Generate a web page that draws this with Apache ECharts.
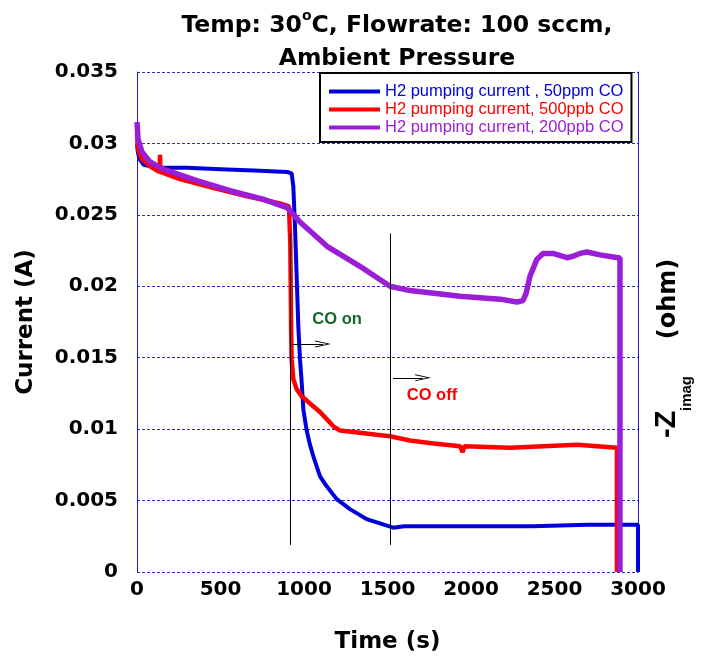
<!DOCTYPE html>
<html>
<head>
<meta charset="utf-8">
<script src="https://cdn.jsdelivr.net/npm/echarts@6/dist/echarts.min.js"></script>
<style>html,body{margin:0;padding:0;background:#fff;}#c{width:701px;height:659px;}</style>
</head>
<body>
<div id="c"></div>
<script>
// ---- data (time in s, current in A) ----
const xTicks = [0, 500, 1000, 1500, 2000, 2500, 3000];
const yTicks = [0, 0.005, 0.01, 0.015, 0.02, 0.025, 0.03, 0.035];

const seriesNames = ['H2 pumping current , 50ppm CO', 'H2 pumping current, 500ppb CO', 'H2 pumping current, 200ppb CO'];

const t50ppm = [0, 5, 15, 40, 80, 140, 300, 500, 700, 900, 926, 936, 946, 956, 966, 976, 986, 996, 1016, 1036, 1056, 1096, 1136, 1196, 1275, 1375, 1455, 1535, 1600, 2000, 2370, 2380, 2700, 3000, 3000];
const i50ppm = [0.0300, 0.0294, 0.0289, 0.0285, 0.0284, 0.0283, 0.0283, 0.0282, 0.0281, 0.0280, 0.0279, 0.0270, 0.0242, 0.0207, 0.0172, 0.0149, 0.0133, 0.0114, 0.0099, 0.0089, 0.0081, 0.0067, 0.0060, 0.0051, 0.0044, 0.0037, 0.0034, 0.0031, 0.0032, 0.0032, 0.0032, 0.0033, 0.0033, 0.0033, 0];

const t500ppb = [0, 6, 30, 78, 136, 138, 140, 257, 455, 659, 856, 910, 916, 918, 921, 923, 926, 936, 956, 986, 1036, 1096, 1136, 1176, 1216, 1296, 1435, 1515, 1635, 1775, 1934, 1950, 1960, 2234, 2635, 2874, 2874];
const i500ppb = [0.0306, 0.0296, 0.0289, 0.0284, 0.0280, 0.0292, 0.0280, 0.0275, 0.0269, 0.0263, 0.0258, 0.0256, 0.0255, 0.0230, 0.0196, 0.0168, 0.0149, 0.0135, 0.0128, 0.0123, 0.0118, 0.0112, 0.0107, 0.0102, 0.0099, 0.0098, 0.0096, 0.0095, 0.0092, 0.0090, 0.0088, 0.0084, 0.0088, 0.0087, 0.0089, 0.0087, 0];

const t200ppb = [0, 6, 30, 78, 156, 359, 557, 754, 898, 916, 976, 1138, 1335, 1515, 1635, 1934, 2174, 2275, 2311, 2330, 2353, 2395, 2431, 2491, 2575, 2611, 2653, 2695, 2772, 2880, 2892, 2892];
const i200ppb = [0.0315, 0.0303, 0.0294, 0.0287, 0.0282, 0.0274, 0.0267, 0.0261, 0.0255, 0.0253, 0.0245, 0.0228, 0.0214, 0.0200, 0.0197, 0.0193, 0.0191, 0.0189, 0.0190, 0.0195, 0.0207, 0.0219, 0.0223, 0.0223, 0.0220, 0.0221, 0.0223, 0.0224, 0.0222, 0.0220, 0.0220, 0];

// annotation markers
const markerTimes = [919, 1518];
const markerRange = [0.0019, 0.0237];
const arrowCoOn = [[928, 0.01596], [1114, 0.01596]];
const arrowCoOff = [[1533, 0.01359], [1713, 0.01359]];
const annotTexts = ['CO on', 'CO off'];
const annotPos = [[1198, 0.0177], [1766, 0.01233]];
const annotColors = ['#16662a', '#ff0000'];

const colors = ['#0000dc', '#ff0000', '#9b1ed7'];
const zip = (a, b) => a.map((v, k) => [v, b[k]]);

const boldFont = 'DejaVu Sans';
const chevron = 'path://M0,16L5,0L10,16L8.6,16L5,4L1.4,16Z';

const chart = echarts.init(document.getElementById('c'), null, {renderer: 'canvas'});
const staticGraphics = [
  {type: 'text', x: 667, y: 438, rotation: Math.PI / 2,
   style: {text: '-Z', font: 'bold 29px "Liberation Sans"', fill: '#000', align: 'left', verticalAlign: 'middle'}},
  {type: 'text', x: 687, y: 411, rotation: Math.PI / 2,
   style: {text: 'imag', font: 'bold 15px "Liberation Sans"', fill: '#000', align: 'left', verticalAlign: 'middle'}},
  {type: 'text', x: 669, y: 299, rotation: Math.PI / 2,
   style: {text: '(ohm)', font: 'bold 24px "DejaVu Sans"', fill: '#000', align: 'center', verticalAlign: 'middle'}}
];
const option = {
  animation: false,
  backgroundColor: '#fff',
  title: {
    text: '{a|Temp: 30}{s|o}{a|C, Flowrate: 100 sccm,}\n{a|Ambient Pressure}',
    left: 392, top: 4, textAlign: 'center',
    textStyle: {
      rich: {
        a: {fontFamily: boldFont, fontWeight: 'bold', fontSize: 23.5, lineHeight: 33, color: '#000'},
        s: {fontFamily: boldFont, fontWeight: 'bold', fontSize: 14, lineHeight: 24, verticalAlign: 'top', color: '#000'}
      }
    }
  },
  legend: {
    orient: 'vertical', left: 320, top: 73,
    padding: [10, 8, 6, 9], itemGap: 1,
    borderColor: '#000', borderWidth: 2, backgroundColor: '#fff',
    icon: 'rect', itemWidth: 51, itemHeight: 4,
    textStyle: {fontFamily: 'Liberation Sans', fontSize: 16.5, lineHeight: 17},
    data: seriesNames.map((n, k) => ({name: n, textStyle: {color: colors[k]}}))
  },
  grid: {left: 137, right: 63, top: 72, bottom: 86},
  xAxis: {
    type: 'value', min: xTicks[0], max: xTicks[xTicks.length - 1], interval: xTicks[1] - xTicks[0],
    axisLine: {show: false}, axisTick: {show: false}, splitLine: {show: false},
    axisLabel: {fontFamily: boldFont, fontWeight: 'bold', fontSize: 20, color: '#000', margin: 8,
                formatter: v => String(v)},
    name: 'Time (s)', nameLocation: 'middle', nameGap: 59,
    nameTextStyle: {fontFamily: boldFont, fontWeight: 'bold', fontSize: 23, color: '#000'}
  },
  yAxis: [{
    type: 'value', min: yTicks[0], max: yTicks[yTicks.length - 1], interval: yTicks[1] - yTicks[0],
    axisLine: {show: true, lineStyle: {color: '#1a1ad0', width: 1}},
    axisTick: {show: false},
    splitLine: {show: true, lineStyle: {color: '#2a2acc', type: [3, 2], width: 1}},
    axisLabel: {fontFamily: boldFont, fontWeight: 'bold', fontSize: 20, color: '#000', margin: 19},
    name: 'Current (A)', nameLocation: 'middle', nameGap: 99, nameRotate: 90,
    nameTextStyle: {fontFamily: boldFont, fontWeight: 'bold', fontSize: 23, color: '#000'}
  }, {
    type: 'value', position: 'right', min: yTicks[0], max: yTicks[yTicks.length - 1], interval: yTicks[1] - yTicks[0],
    axisLine: {show: true, lineStyle: {color: '#1a1ad0', width: 1}},
    axisTick: {show: false}, axisLabel: {show: false}, splitLine: {show: false}
  }],
  graphic: staticGraphics,
  series: [
    {name: seriesNames[0], type: 'line', data: zip(t50ppm, i50ppm), showSymbol: false, symbol: 'none',
     lineStyle: {color: colors[0], width: 4}, itemStyle: {color: colors[0]}, z: 3},
    {name: seriesNames[1], type: 'line', data: zip(t500ppb, i500ppb), showSymbol: false, symbol: 'none',
     lineStyle: {color: colors[1], width: 4.5}, itemStyle: {color: colors[1]}, z: 4},
    {name: seriesNames[2], type: 'line', data: zip(t200ppb, i200ppb), showSymbol: false, symbol: 'none',
     lineStyle: {color: colors[2], width: 5.5}, itemStyle: {color: colors[2]}, z: 5},
    ...markerTimes.map(t => ({
      type: 'line', data: [[t, markerRange[0]], [t, markerRange[1]]], symbol: 'none', silent: true,
      lineStyle: {color: '#000', width: 1}, z: 6
    })),
    {type: 'line', data: [], silent: true, z: 6,
     markLine: {
       silent: true, symbol: ['none', chevron], symbolSize: [7, 16],
       label: {show: false}, lineStyle: {color: '#000', width: 1, type: 'solid'},
       data: [
         [{coord: arrowCoOn[0]}, {coord: arrowCoOn[1]}],
         [{coord: arrowCoOff[0]}, {coord: arrowCoOff[1]}]
       ]
     }}
  ]
};
chart.setOption(option);
// place annotation texts through the chart's own coordinate system
const annotGraphics = annotTexts.map((txt, k) => {
  const p = chart.convertToPixel({gridIndex: 0}, annotPos[k]);
  return {type: 'text', x: p[0], y: p[1], z: 100,
          style: {text: txt, font: 'bold 16.5px "Liberation Sans"', fill: annotColors[k],
                  align: 'center', verticalAlign: 'middle'}};
});
chart.setOption({graphic: staticGraphics.concat(annotGraphics)});
</script>
</body>
</html>
